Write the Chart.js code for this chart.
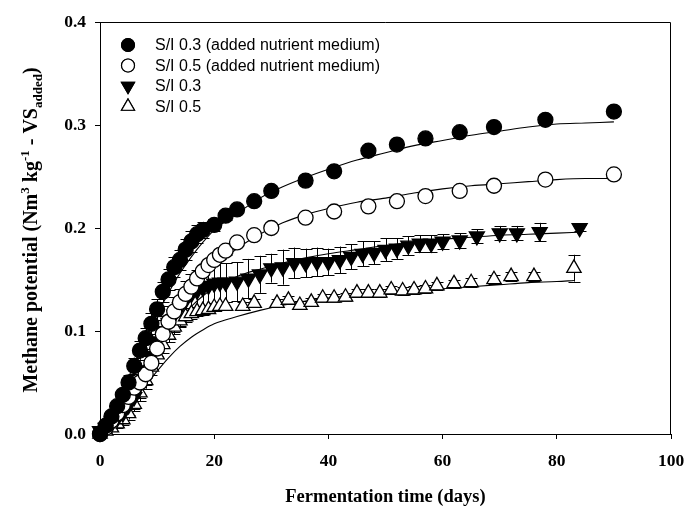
<!DOCTYPE html>
<html>
<head>
<meta charset="utf-8">
<script src="https://cdn.jsdelivr.net/npm/chart.js@4.4.0/dist/chart.umd.min.js"></script>
<style>
  html, body { margin: 0; padding: 0; background: #fff; }
</style>
</head>
<body>
<canvas id="methaneChart" width="685" height="507"></canvas>
<script>
// S/I 0.3 (added nutrient medium)
const daysA = [0,1,2,3,4,5,6,7,8,9,10,11,12,13,14,15,16,17,18,20,22,24,27,30,36,41,47,52,57,63,69,78,90];
const methA = [0,0.008,0.017,0.027,0.038,0.050,0.066,0.081,0.093,0.107,0.121,0.138,0.150,0.162,0.169,0.179,0.187,0.194,0.198,0.203,0.212,0.218,0.226,0.236,0.246,0.255,0.275,0.281,0.287,0.293,0.298,0.305,0.313];
const errA  = [0,0.003,0.004,0.005,0.006,0.007,0.008,0.009,0.010,0.010,0.010,0.010,0.010,0.010,0.010,0.010,0.010,0.009,0.008,0.006,0.004,0.003,0.002,0.002,0,0,0,0,0,0,0,0,0];

// S/I 0.5 (added nutrient medium)
const daysB = [0,1,2,3,4,5,6,7,8,9,10,11,12,13,14,15,16,17,18,19,20,21,22,24,27,30,36,41,47,52,57,63,69,78,90];
const methB = [0,0.006,0.013,0.020,0.028,0.036,0.045,0.050,0.058,0.069,0.083,0.097,0.109,0.119,0.128,0.136,0.143,0.151,0.158,0.164,0.169,0.174,0.178,0.186,0.193,0.200,0.210,0.216,0.221,0.226,0.231,0.236,0.241,0.247,0.252];
const errB  = [0,0.002,0.003,0.004,0.004,0.004,0.004,0.004,0.004,0.004,0.004,0.004,0.004,0.004,0.004,0.004,0.004,0.004,0.004,0.004,0.004,0.004,0.004,0.003,0,0,0,0,0,0,0,0,0,0,0];

// S/I 0.3
const daysC = [0,1,2,3,4,5,6,7,8,9,10,11,12,13,14,15,16,17,18,19,20,21,22,24,26,28,30,32,34,36,38,40,42,44,46,48,50,52,54,56,58,60,63,66,70,73,77,84];
const methC = [0.003,0.006,0.010,0.015,0.020,0.028,0.036,0.048,0.062,0.076,0.090,0.100,0.108,0.116,0.123,0.130,0.136,0.139,0.142,0.144,0.146,0.147,0.147,0.148,0.151,0.155,0.161,0.162,0.166,0.166,0.167,0.167,0.169,0.172,0.175,0.176,0.179,0.180,0.183,0.185,0.185,0.187,0.188,0.192,0.195,0.195,0.196,0.200];
const errC  = [0.003,0.004,0.005,0.006,0.008,0.010,0.012,0.013,0.014,0.014,0.014,0.015,0.016,0.017,0.018,0.019,0.019,0.020,0.020,0.020,0.020,0.019,0.019,0.019,0.019,0.018,0.014,0.017,0.015,0.014,0.014,0.013,0.013,0.012,0.012,0.011,0.011,0.010,0.009,0.008,0.008,0.007,0.007,0.007,0.007,0.007,0.009,0.003];

// S/I 0.5
const daysD = [0,1,2,3,4,5,6,7,8,9,10,11,12,13,14,15,16,17,18,19,20,21,22,25,27,31,33,35,37,39,41,43,45,47,49,51,53,55,57,59,62,65,69,72,76,83];
const methD = [0,0.003,0.006,0.010,0.014,0.020,0.029,0.040,0.052,0.065,0.077,0.087,0.096,0.104,0.110,0.114,0.117,0.119,0.120,0.121,0.123,0.124,0.124,0.124,0.127,0.127,0.130,0.125,0.128,0.132,0.132,0.133,0.137,0.137,0.137,0.140,0.139,0.140,0.141,0.144,0.146,0.147,0.150,0.153,0.153,0.161];
const errD  = [0,0.002,0.003,0.004,0.005,0.006,0.007,0.008,0.008,0.008,0.008,0.008,0.007,0.007,0.006,0.005,0.005,0.004,0.004,0.004,0.004,0.004,0.004,0.004,0.004,0.004,0.004,0.004,0.004,0.004,0.004,0.004,0.004,0.004,0.004,0.004,0.004,0.004,0.004,0.004,0.004,0.004,0.004,0.004,0.004,0.013];

// fitted curves
const fitDaysAB = [0,2,4,6,8,10,12,14,16,18,20,24,28,32,36,40,45,50,55,60,65,70,75,80,85,90];
const fitA = [0,0.018,0.042,0.068,0.093,0.116,0.137,0.156,0.172,0.186,0.198,0.214,0.229,0.240,0.249,0.257,0.266,0.273,0.280,0.285,0.290,0.294,0.298,0.301,0.302,0.303];
const fitB = [0,0.012,0.030,0.050,0.070,0.089,0.106,0.122,0.137,0.150,0.161,0.180,0.194,0.205,0.213,0.219,0.225,0.229,0.234,0.238,0.241,0.243,0.245,0.247,0.248,0.248];
const fitDaysC = [0,2,4,6,8,10,12,14,16,18,20,24,28,32,36,40,45,50,55,60,65,70,75,80,84];
const fitC = [0,0.012,0.028,0.045,0.064,0.082,0.098,0.112,0.124,0.134,0.142,0.153,0.160,0.166,0.171,0.175,0.179,0.183,0.186,0.189,0.191,0.193,0.194,0.195,0.196];
const fitDaysD = [0,2,4,6,8,10,12,14,16,18,20,24,28,32,36,40,45,50,55,60,65,70,75,80,83];
const fitD = [0,0.008,0.020,0.033,0.047,0.061,0.074,0.085,0.094,0.101,0.107,0.114,0.120,0.125,0.129,0.132,0.135,0.137,0.139,0.141,0.143,0.145,0.147,0.148,0.149];

const legendNames = ["S/I 0.3 (added nutrient medium)", "S/I 0.5 (added nutrient medium)", "S/I 0.3", "S/I 0.5"];
const xTicks = [0, 20, 40, 60, 80, 100];
const yTicks = [0.0, 0.1, 0.2, 0.3, 0.4];

const SERIF = "'Liberation Serif', 'Times New Roman', serif";
const SANS = "'Liberation Sans', Arial, sans-serif";

function toPoints(xs, ys) {
  return xs.map((x, i) => ({ x: x, y: ys[i] }));
}

function markerSet(label, xs, ys, errs, style) {
  return Object.assign({
    label: label,
    data: toPoints(xs, ys),
    errors: errs,
    showLine: false,
    borderColor: "#000",
    borderWidth: 1.3,
    clip: false
  }, style);
}

function fitSet(xs, ys) {
  return {
    label: "fit",
    data: toPoints(xs, ys),
    showLine: true,
    pointRadius: 0,
    borderColor: "#000",
    borderWidth: 1.1,
    cubicInterpolationMode: "monotone",
    isFit: true
  };
}

// error bars drawn under the markers
const errorBarPlugin = {
  id: "errorBars",
  beforeDatasetsDraw(chart) {
    const ctx = chart.ctx;
    const xs = chart.scales.x, ys = chart.scales.y;
    ctx.save();
    ctx.strokeStyle = "#000";
    ctx.lineWidth = 1;
    chart.data.datasets.forEach((ds) => {
      if (!ds.errors) return;
      ds.data.forEach((p, i) => {
        const e = ds.errors[i];
        if (!e) return;
        const px = Math.round(xs.getPixelForValue(p.x)) + 0.5;
        const top = ys.getPixelForValue(p.y + e);
        const bot = ys.getPixelForValue(p.y - e);
        ctx.beginPath();
        ctx.moveTo(px, top); ctx.lineTo(px, bot);
        ctx.moveTo(px - 6, Math.round(top) + 0.5); ctx.lineTo(px + 6, Math.round(top) + 0.5);
        ctx.moveTo(px - 6, Math.round(bot) + 0.5); ctx.lineTo(px + 6, Math.round(bot) + 0.5);
        ctx.stroke();
      });
    });
    ctx.restore();
  }
};

// frame, legend and axis titles
const decorPlugin = {
  id: "decor",
  afterDraw(chart) {
    const ctx = chart.ctx;
    const a = chart.chartArea;
    ctx.save();
    ctx.strokeStyle = "#000";
    ctx.lineWidth = 1;
    ctx.beginPath();
    ctx.moveTo(a.left, a.top + 0.5);
    ctx.lineTo(a.right - 0.5, a.top + 0.5);
    ctx.lineTo(a.right - 0.5, a.bottom);
    ctx.stroke();

    // legend
    const rows = [45, 65.5, 86, 106.5];
    chart.data.datasets.filter((d) => !d.isFit).forEach((ds, i) => {
      Chart.helpers.drawPoint(ctx, {
        pointStyle: ds.pointStyle,
        radius: ds.pointStyle === "circle" ? 6.5 : 7.5,
        rotation: ds.rotation || 0,
        borderWidth: 1.2
      }, 128, rows[i]);
      ctx.fillStyle = ds.backgroundColor;
      ctx.strokeStyle = "#000";
      ctx.lineWidth = 1.2;
      ctx.fill();
      ctx.stroke();
      ctx.fillStyle = "#000";
      ctx.font = "16px " + SANS;
      ctx.textBaseline = "middle";
      ctx.textAlign = "left";
      ctx.fillText(legendNames[i], 155, rows[i] + 1);
    });

    // x title
    ctx.fillStyle = "#000";
    ctx.font = "bold 18.5px " + SERIF;
    ctx.textAlign = "center";
    ctx.textBaseline = "middle";
    ctx.fillText("Fermentation time (days)", (a.left + a.right) / 2, 497);

    // y title with super/subscripts
    const parts = [
      { t: "Methane potential (Nm", s: 20, dy: 0 },
      { t: "3", s: 13, dy: -8 },
      { t: " kg", s: 20, dy: 0 },
      { t: "-1", s: 13, dy: -8 },
      { t: " - VS", s: 20, dy: 0 },
      { t: "added", s: 13, dy: 5 },
      { t: ")", s: 20, dy: 0 }
    ];
    let total = 0;
    parts.forEach((p) => { ctx.font = "bold " + p.s + "px " + SERIF; p.w = ctx.measureText(p.t).width; total += p.w; });
    ctx.translate(30, (a.top + a.bottom) / 2 + 2);
    ctx.rotate(-Math.PI / 2);
    ctx.textAlign = "left";
    ctx.textBaseline = "alphabetic";
    let cx = -total / 2;
    parts.forEach((p) => {
      ctx.font = "bold " + p.s + "px " + SERIF;
      ctx.fillText(p.t, cx, 7 + p.dy);
      cx += p.w;
    });
    ctx.restore();
  }
};

const ctx = document.getElementById("methaneChart").getContext("2d");
new Chart(ctx, {
  type: "scatter",
  data: {
    datasets: [
      markerSet(legendNames[0], daysA, methA, errA, { pointStyle: "circle", pointRadius: 7.5, backgroundColor: "#000" }),
      markerSet(legendNames[1], daysB, methB, errB, { pointStyle: "circle", pointRadius: 7.5, backgroundColor: "#fff" }),
      markerSet(legendNames[2], daysC, methC, errC, { pointStyle: "triangle", pointRadius: 8.7, rotation: 180, backgroundColor: "#000" }),
      markerSet(legendNames[3], daysD, methD, errD, { pointStyle: "triangle", pointRadius: 8.3, backgroundColor: "#fff" }),
      fitSet(fitDaysAB, fitA),
      fitSet(fitDaysAB, fitB),
      fitSet(fitDaysC, fitC),
      fitSet(fitDaysD, fitD)
    ]
  },
  options: {
    responsive: false,
    devicePixelRatio: 1,
    animation: false,
    layout: { padding: { left: 0, right: 14, top: 22, bottom: 0 } },
    plugins: {
      legend: { display: false },
      tooltip: { enabled: false }
    },
    scales: {
      x: {
        type: "linear",
        min: 0,
        max: 100,
        afterBuildTicks: (s) => { s.ticks = xTicks.map((v) => ({ value: v })); },
        ticks: { color: "#000", padding: 12, maxRotation: 0, font: { family: SERIF, size: 17.5, weight: "bold" } },
        grid: { drawOnChartArea: false, tickLength: 5, color: "#000" },
        border: { color: "#000", width: 1 },
        afterFit: (s) => { s.height = 73; s.paddingLeft = 0; s.paddingRight = 0; }
      },
      y: {
        type: "linear",
        min: 0,
        max: 0.4,
        afterBuildTicks: (s) => { s.ticks = yTicks.map((v) => ({ value: v })); },
        ticks: { color: "#000", padding: 9, font: { family: SERIF, size: 17.5, weight: "bold" }, callback: (v) => v.toFixed(1) },
        grid: { drawOnChartArea: false, tickLength: 5, color: "#000" },
        border: { color: "#000", width: 1 },
        afterFit: (s) => { s.width = 100; s.paddingTop = 0; s.paddingBottom = 0; }
      }
    }
  },
  plugins: [errorBarPlugin, decorPlugin]
});
</script>
</body>
</html>
